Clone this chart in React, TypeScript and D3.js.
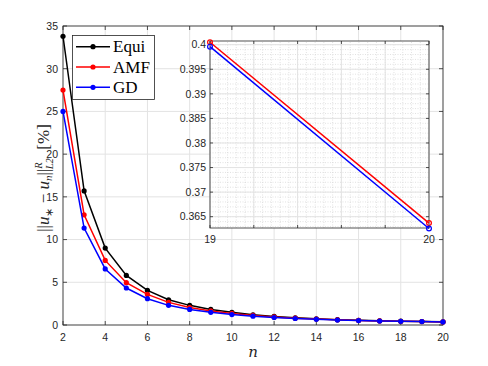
import * as d3 from "d3";
import { useEffect, useRef } from "react";

const nVals = [2, 3, 4, 5, 6, 7, 8, 9, 10, 11, 12, 13, 14, 15, 16, 17, 18, 19, 20];
const equi = [33.8, 15.7, 9.0, 5.8, 4.05, 2.95, 2.3, 1.82, 1.48, 1.2, 1.0, 0.85, 0.72, 0.62, 0.55, 0.5, 0.45, 0.41, 0.375];
const amf = [27.5, 12.9, 7.56, 4.95, 3.58, 2.65, 2.05, 1.65, 1.35, 1.12, 0.95, 0.8, 0.69, 0.6, 0.53, 0.475, 0.435, 0.4005, 0.3637];
const gd = [25.0, 11.35, 6.56, 4.33, 3.08, 2.3, 1.82, 1.48, 1.22, 1.03, 0.88, 0.76, 0.66, 0.58, 0.52, 0.46, 0.43, 0.3996, 0.3626];

const seriesNames = ["Equi", "AMF", "GD"];
const seriesColors = ["#000000", "#ff0000", "#0000ff"];

const mainXTicks = [2, 4, 6, 8, 10, 12, 14, 16, 18, 20];
const mainYTicks = [0, 5, 10, 15, 20, 25, 30, 35];
const insetYTicks = [0.365, 0.37, 0.375, 0.38, 0.385, 0.39, 0.395, 0.4];
const insetYLabels = ["0.365", "0.37", "0.375", "0.38", "0.385", "0.39", "0.395", "0.4"];

const AXIS = "#262626";
const GRID = "#e3e3e3";

function App() {
  const ref = useRef<SVGSVGElement>(null);

  useEffect(() => {
    const svg = d3.select(ref.current);
    svg.selectAll("*").remove();

    const all = [equi, amf, gd];

    // main axes
    const x = d3.scaleLinear().domain([2, 20]).range([63, 443]);
    const y = d3.scaleLinear().domain([0, 35]).range([325, 26]);
    const [x0, x1] = x.range();
    const [y0, y1] = y.range();

    const g = svg.append("g");
    g.append("rect").attr("x", x0).attr("y", y1).attr("width", x1 - x0).attr("height", y0 - y1).attr("fill", "white");

    // grid
    g.selectAll(".gx").data(mainXTicks).join("line")
      .attr("x1", d => x(d)).attr("x2", d => x(d)).attr("y1", y0).attr("y2", y1)
      .attr("stroke", GRID).attr("stroke-width", 1);
    g.selectAll(".gy").data(mainYTicks).join("line")
      .attr("y1", d => y(d)).attr("y2", d => y(d)).attr("x1", x0).attr("x2", x1)
      .attr("stroke", GRID).attr("stroke-width", 1);

    // box + ticks
    g.append("rect").attr("x", x0).attr("y", y1).attr("width", x1 - x0).attr("height", y0 - y1)
      .attr("fill", "none").attr("stroke", AXIS).attr("stroke-width", 0.8);
    mainXTicks.forEach(t => {
      g.append("line").attr("x1", x(t)).attr("x2", x(t)).attr("y1", y0).attr("y2", y0 - 4).attr("stroke", AXIS).attr("stroke-width", 0.8);
      g.append("line").attr("x1", x(t)).attr("x2", x(t)).attr("y1", y1).attr("y2", y1 + 4).attr("stroke", AXIS).attr("stroke-width", 0.8);
      g.append("text").attr("x", x(t)).attr("y", y0 + 16).attr("text-anchor", "middle")
        .attr("font-family", "Liberation Sans, Arial, sans-serif").attr("font-size", 10.5).attr("fill", AXIS).text(t);
    });
    mainYTicks.forEach(t => {
      g.append("line").attr("x1", x0).attr("x2", x0 + 4).attr("y1", y(t)).attr("y2", y(t)).attr("stroke", AXIS).attr("stroke-width", 0.8);
      g.append("line").attr("x1", x1).attr("x2", x1 - 4).attr("y1", y(t)).attr("y2", y(t)).attr("stroke", AXIS).attr("stroke-width", 0.8);
      g.append("text").attr("x", x0 - 5).attr("y", y(t) + 3.8).attr("text-anchor", "end")
        .attr("font-family", "Liberation Sans, Arial, sans-serif").attr("font-size", 10.5).attr("fill", AXIS).text(t);
    });

    const line = d3.line<number>().x((_, i) => x(nVals[i])).y(d => y(d));
    all.forEach((s, k) => {
      g.append("path").attr("d", line(s)).attr("fill", "none").attr("stroke", seriesColors[k]).attr("stroke-width", 1.5);
      g.selectAll(".m" + k).data(s).join("circle")
        .attr("cx", (_, i) => x(nVals[i])).attr("cy", d => y(d)).attr("r", 2.6).attr("fill", seriesColors[k]);
    });

    // x label
    g.append("text").attr("x", (x0 + x1) / 2).attr("y", 357).attr("text-anchor", "middle")
      .attr("font-family", "DejaVu Serif, serif").attr("font-style", "italic").attr("font-size", 15).attr("fill", AXIS).text("n");

    // y label
    const yl = g.append("text").attr("transform", "translate(49,178) rotate(-90)").attr("text-anchor", "middle")
      .attr("font-family", "Liberation Serif, serif").attr("font-size", 17).attr("fill", AXIS);
    yl.append("tspan").text("||");
    yl.append("tspan").attr("font-style", "italic").text("u");
    yl.append("tspan").attr("font-size", 11).attr("dy", 4).text("∗");
    yl.append("tspan").attr("dy", -4).text("\u00a0−\u00a0");
    yl.append("tspan").attr("font-style", "italic").text("u");
    yl.append("tspan").attr("font-size", 11).attr("font-style", "italic").attr("dy", 3).text("n");
    yl.append("tspan").attr("dy", -3).text("||");
    yl.append("tspan").attr("font-size", 10.5).attr("font-style", "italic").attr("dy", -7).text("R");
    yl.append("tspan").attr("font-size", 10.5).attr("font-style", "italic").attr("dx", -7).attr("dy", 11).text("L2");
    yl.append("tspan").attr("dy", -4).text("\u00a0\u00a0[%]");

    // legend
    const lg = g.append("g");
    lg.append("rect").attr("x", 72.5).attr("y", 35.5).attr("width", 82).attr("height", 64)
      .attr("fill", "white").attr("stroke", AXIS).attr("stroke-width", 0.8);
    seriesNames.forEach((name, k) => {
      const ly = 46.7 + k * 20.3;
      lg.append("line").attr("x1", 76).attr("x2", 110).attr("y1", ly).attr("y2", ly).attr("stroke", seriesColors[k]).attr("stroke-width", 1.5);
      lg.append("circle").attr("cx", 93).attr("cy", ly).attr("r", 2.6).attr("fill", seriesColors[k]);
      lg.append("text").attr("x", 113).attr("y", ly + 5.5).attr("font-family", "Liberation Serif, serif")
        .attr("font-size", 17).attr("fill", "#000").text(name);
    });

    // inset
    const xi = d3.scaleLinear().domain([19, 20]).range([210, 429]);
    const yi = d3.scaleLinear().domain([0.3627, 0.40075]).range([228, 41]);
    const [ix0, ix1] = xi.range();
    const [iy0, iy1] = yi.range();
    const ig = svg.append("g");
    ig.append("rect").attr("x", ix0).attr("y", iy1).attr("width", ix1 - ix0).attr("height", iy0 - iy1).attr("fill", "white");

    const xMinor = d3.range(19, 20.0001, 0.04).filter(v => v > 19.001 && v < 19.999);
    const yMinor = d3.range(0.363, 0.4006, 0.001);
    ig.selectAll(".mx").data(xMinor).join("line")
      .attr("x1", d => xi(d)).attr("x2", d => xi(d)).attr("y1", iy0).attr("y2", iy1)
      .attr("stroke", "#cfcfcf").attr("stroke-width", 0.6).attr("stroke-dasharray", "1,1.5");
    ig.selectAll(".my").data(yMinor).join("line")
      .attr("y1", d => yi(d)).attr("y2", d => yi(d)).attr("x1", ix0).attr("x2", ix1)
      .attr("stroke", "#cfcfcf").attr("stroke-width", 0.6).attr("stroke-dasharray", "1,1.5");

    const xMajor = d3.range(19, 20.0001, 0.2);
    ig.selectAll(".jx").data(xMajor).join("line")
      .attr("x1", d => xi(d)).attr("x2", d => xi(d)).attr("y1", iy0).attr("y2", iy1)
      .attr("stroke", GRID).attr("stroke-width", 1);
    ig.selectAll(".jy").data(insetYTicks).join("line")
      .attr("y1", d => yi(d)).attr("y2", d => yi(d)).attr("x1", ix0).attr("x2", ix1)
      .attr("stroke", GRID).attr("stroke-width", 1);

    ig.append("rect").attr("x", ix0).attr("y", iy1).attr("width", ix1 - ix0).attr("height", iy0 - iy1)
      .attr("fill", "none").attr("stroke", AXIS).attr("stroke-width", 0.8);
    xMajor.forEach(t => {
      ig.append("line").attr("x1", xi(t)).attr("x2", xi(t)).attr("y1", iy0).attr("y2", iy0 - 3).attr("stroke", AXIS).attr("stroke-width", 0.8);
      ig.append("line").attr("x1", xi(t)).attr("x2", xi(t)).attr("y1", iy1).attr("y2", iy1 + 3).attr("stroke", AXIS).attr("stroke-width", 0.8);
    });
    [19, 20].forEach(t => {
      ig.append("text").attr("x", xi(t)).attr("y", iy0 + 15).attr("text-anchor", "middle")
        .attr("font-family", "Liberation Sans, Arial, sans-serif").attr("font-size", 10.5).attr("fill", AXIS).text(t);
    });
    insetYTicks.forEach((t, i) => {
      ig.append("line").attr("x1", ix0).attr("x2", ix0 + 3).attr("y1", yi(t)).attr("y2", yi(t)).attr("stroke", AXIS).attr("stroke-width", 0.8);
      ig.append("line").attr("x1", ix1).attr("x2", ix1 - 3).attr("y1", yi(t)).attr("y2", yi(t)).attr("stroke", AXIS).attr("stroke-width", 0.8);
      ig.append("text").attr("x", ix0 - 4).attr("y", yi(t) + 3.8).attr("text-anchor", "end")
        .attr("font-family", "Liberation Sans, Arial, sans-serif").attr("font-size", 10.5).attr("fill", AXIS).text(insetYLabels[i]);
    });

    const last = nVals.slice(-2);
    const iline = d3.line<number>().x((_, i) => xi(last[i])).y(d => yi(d));
    [amf, gd].forEach((s, k) => {
      const pts = s.slice(-2);
      const c = seriesColors[k + 1];
      ig.append("path").attr("d", iline(pts)).attr("fill", "none").attr("stroke", c).attr("stroke-width", 1.5);
      ig.selectAll(".im" + k).data(pts).join("circle")
        .attr("cx", (_, i) => xi(last[i])).attr("cy", d => yi(d)).attr("r", 2.4)
        .attr("fill", "none").attr("stroke", c).attr("stroke-width", 1.2);
    });

    return () => { svg.selectAll("*").remove(); };
  }, []);

  return (
    <svg ref={ref} width={488} height={366} style={{ position: "absolute", left: 0, top: 0, background: "white" }} />
  );
}

export default App;
